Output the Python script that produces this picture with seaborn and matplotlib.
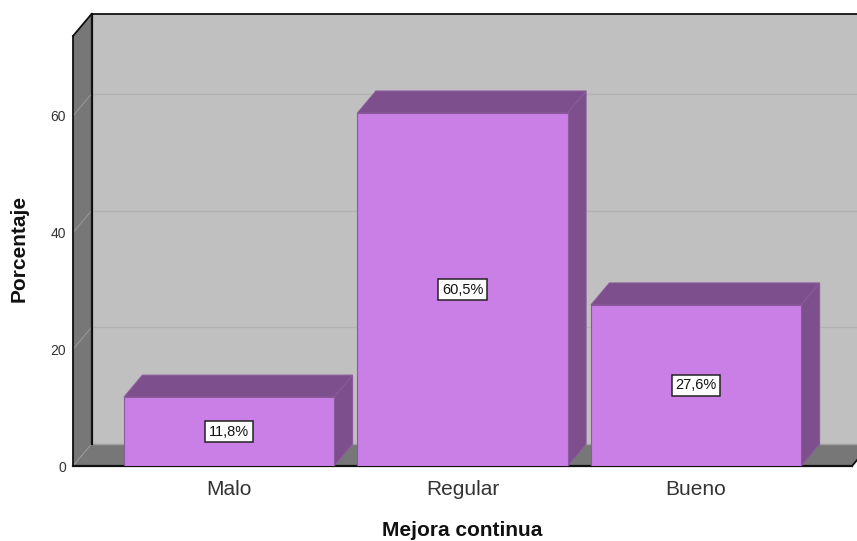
import matplotlib
matplotlib.use("Agg")
import matplotlib.pyplot as plt
import pandas as pd
import seaborn as sns
from matplotlib.patches import Polygon

categories = ["Malo", "Regular", "Bueno"]
percentages = [11.8, 60.5, 27.6]
y_ticks = [0, 20, 40, 60]

WALL = "#C0C0C0"
SIDE = "#777777"
GRID_BACK = "#B2B2B2"
GRID_SIDE = "#969696"
BAR_FRONT = "#CA7FE6"
BAR_SHADE = "#7D4F8C"
BAR_EDGE = "#8A5A9C"
BAR_WIDTH = 0.9

W, H = 857, 541
LEFT, RIGHT, TOP, BOTTOM = 73, 852, 36, 466
DEPTH_X, DEPTH_Y = 18.5, 22

sns.set_theme(style="white")
plt.rcParams["font.family"] = ["Liberation Sans", "DejaVu Sans"]

fig = plt.figure(figsize=(W / 100, H / 100), dpi=100, facecolor="white")
ax = fig.add_axes([LEFT / W, 1 - BOTTOM / H, (RIGHT - LEFT) / W, (BOTTOM - TOP) / H])
ax.patch.set_visible(False)

frame = pd.DataFrame({"categoria": categories, "porcentaje": percentages})
sns.barplot(data=frame, x="categoria", y="porcentaje", order=categories,
            color=BAR_FRONT, saturation=1, width=BAR_WIDTH,
            edgecolor=BAR_EDGE, linewidth=0.8, ax=ax, zorder=5)

x0, x1 = -0.668, 2.668
y0, y1 = 0, 73.7
ax.set_xlim(x0, x1)
ax.set_ylim(y0, y1)

# Depth of the box expressed in data units
dx = DEPTH_X * (x1 - x0) / (RIGHT - LEFT)
dy = DEPTH_Y * (y1 - y0) / (BOTTOM - TOP)


def face(points, color, edge="none", lw=0, z=1):
    ax.add_patch(Polygon(points, closed=True, facecolor=color, edgecolor=edge,
                         linewidth=lw, clip_on=False, zorder=z))


def stroke(xs, ys, color="#111111", lw=1.3, z=2):
    ax.plot(xs, ys, color=color, lw=lw, clip_on=False, zorder=z,
            solid_capstyle="projecting")


# Back wall, left wall and floor
face([(x0 + dx, y0 + dy), (x1 + dx, y0 + dy), (x1 + dx, y1 + dy), (x0 + dx, y1 + dy)], WALL)
face([(x0, y0), (x0 + dx, y0 + dy), (x0 + dx, y1 + dy), (x0, y1)], SIDE)
face([(x0, y0), (x1, y0), (x1 + dx, y0 + dy), (x0 + dx, y0 + dy)], SIDE)

# Gridlines run along the back wall and down the left wall
for t in y_ticks[1:]:
    stroke([x0 + dx, x1 + dx], [t + dy, t + dy], GRID_BACK, 1)
    stroke([x0, x0 + dx], [t, t + dy], GRID_SIDE, 0.8)
stroke([x0, x0 + dx], [y0, y0 + dy], GRID_SIDE, 0.8)
stroke([x0 + dx, x1 + dx], [y0 + dy, y0 + dy], "#A0A0A0", 1)

# Box outline
stroke([x0, x0], [y0, y1])
stroke([x0, x0 + dx], [y1, y1 + dy])
stroke([x0 + dx, x1 + dx], [y1 + dy, y1 + dy])
stroke([x0 + dx, x0 + dx], [y0 + dy, y1 + dy], lw=1.6)
stroke([x0, x1], [y0, y0], lw=1.6)
stroke([x1, x1 + dx], [y0, y0 + dy])

# Top and side faces of each bar, with its value label
half = BAR_WIDTH / 2
for i, v in enumerate(percentages):
    face([(i - half, v), (i + half, v), (i + half + dx, v + dy), (i - half + dx, v + dy)],
         BAR_SHADE, BAR_EDGE, 0.8, 4)
    face([(i + half, 0), (i + half + dx, dy), (i + half + dx, v + dy), (i + half, v)],
         BAR_SHADE, BAR_EDGE, 0.8, 4)
    ax.text(i, v / 2, f"{v:.1f}%".replace(".", ","), ha="center", va="center",
            fontsize=10.5, color="#111111", zorder=7,
            bbox=dict(boxstyle="square,pad=0.26", facecolor="white",
                      edgecolor="#222222", linewidth=1.1))

ax.set_yticks(y_ticks)
ax.tick_params(axis="y", length=0, pad=5, labelsize=10, labelcolor="#333333")
for lab in ax.get_yticklabels():
    lab.set_va("center_baseline")
ax.tick_params(axis="x", length=0, pad=10, labelsize=15, labelcolor="#333333")
sns.despine(ax=ax, left=True, bottom=True)

ax.set_xlabel("Mejora continua", fontsize=15, fontweight="bold", color="#111111")
ax.set_ylabel("Porcentaje", fontsize=15, fontweight="bold", color="#111111")
ax.xaxis.set_label_coords((462 - LEFT) / (RIGHT - LEFT), -(531 - BOTTOM) / (BOTTOM - TOP))
ax.xaxis.label.set_va("center")
ax.yaxis.set_label_coords((19 - LEFT) / (RIGHT - LEFT), 0.505)
ax.yaxis.label.set_va("center")

fig.savefig("out.png", dpi=100)
